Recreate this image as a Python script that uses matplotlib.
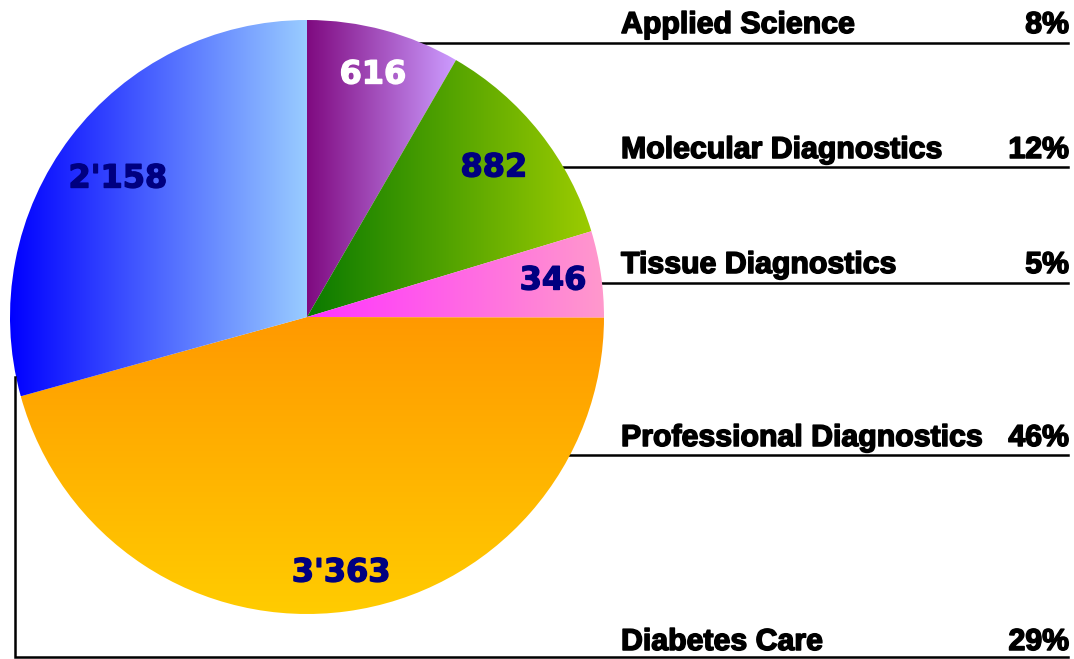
import numpy as np
import matplotlib
matplotlib.use("Agg")
import matplotlib.pyplot as plt
import matplotlib.patheffects as pe
from matplotlib.colors import LinearSegmentedColormap

# ---- data ----
categories = ["Applied Science", "Molecular Diagnostics", "Tissue Diagnostics",
              "Professional Diagnostics", "Diabetes Care"]
values = [616, 882, 346, 3363, 2158]
value_labels = ["616", "882", "346", "3'363", "2'158"]
percent_labels = ["8%", "12%", "5%", "46%", "29%"]

# ---- style ----
W, H = 1074, 659
grad_colors = [("#7f0a80", "#cc9cff"),
               ("#0a7a00", "#9ccc00"),
               ("#ff33ff", "#ff99cc"),
               ("#ff9900", "#ffcc00"),
               ("#0000ff", "#99ccff")]
grad_dir = ["h", "h", "h", "v", "h"]
value_colors = ["white", "#000080", "#000080", "#000080", "#000080"]
value_pos = [(373, 75), (494, 168), (553, 281), (341, 573), (118, 179)]
label_baseline = [33, 158, 273, 446, 650]
line_y = [43, 167, 283, 455, 657]
line_x0 = [418, 563, 601, 567, 15]

cx, cy_pix, R = 307, 317, 297

fig = plt.figure(figsize=(W / 100, H / 100), dpi=100)
ax = fig.add_axes([0, 0, 1, 1])


def Y(ypix):
    return H - ypix


wedges, _ = ax.pie(values, startangle=90, counterclock=False, radius=R,
                   center=(cx, Y(cy_pix)), frame=True,
                   wedgeprops=dict(linewidth=0))
ax.set_xlim(0, W)
ax.set_ylim(0, H)
ax.set_aspect("equal")
ax.axis("off")

for w, (c0, c1), d in zip(wedges, grad_colors, grad_dir):
    w.set_facecolor("none")
    w.set_edgecolor("none")
    cmap = LinearSegmentedColormap.from_list("g", [c0, c1])
    th = np.radians(np.linspace(w.theta1, w.theta2, 200))
    xs = np.concatenate([[w.center[0]], w.center[0] + R * np.cos(th)])
    ys = np.concatenate([[w.center[1]], w.center[1] + R * np.sin(th)])
    x0, x1, y0, y1 = xs.min(), xs.max(), ys.min(), ys.max()
    if d == "h":
        img = np.linspace(0, 1, 256)[None, :]
    else:
        img = np.linspace(1, 0, 256)[:, None]
    im = ax.imshow(img, cmap=cmap, extent=(x0, x1, y0, y1), origin="lower",
                   aspect="auto", interpolation="bilinear", zorder=1)
    im.set_clip_path(w)

for vl, col, (px, py) in zip(value_labels, value_colors, value_pos):
    ax.text(px, Y(py), vl, color=col, fontsize=23, fontweight="bold",
            family="DejaVu Sans", ha="center", va="center", zorder=3,
            path_effects=[pe.withStroke(linewidth=1.0, foreground=col)])

lbl_font = ["Liberation Sans", "DejaVu Sans"]
stroke = [pe.withStroke(linewidth=1.1, foreground="black")]
for cat, pct, yb in zip(categories, percent_labels, label_baseline):
    ax.text(621, Y(yb), cat, fontsize=21.8, fontweight="bold", family=lbl_font,
            ha="left", va="baseline", color="black", zorder=3, path_effects=stroke)
    ax.text(1069, Y(yb), pct, fontsize=21.8, fontweight="bold", family=lbl_font,
            ha="right", va="baseline", color="black", zorder=3, path_effects=stroke)

for i, (ly, lx) in enumerate(zip(line_y, line_x0)):
    if i == len(line_y) - 1:
        ax.plot([lx, lx, 1068], [Y(377), Y(ly), Y(ly)], color="black", lw=1.8,
                solid_joinstyle="miter", zorder=2)
    else:
        ax.plot([lx, 1068], [Y(ly), Y(ly)], color="black", lw=1.8, zorder=0)

fig.savefig("out.png", dpi=100)
